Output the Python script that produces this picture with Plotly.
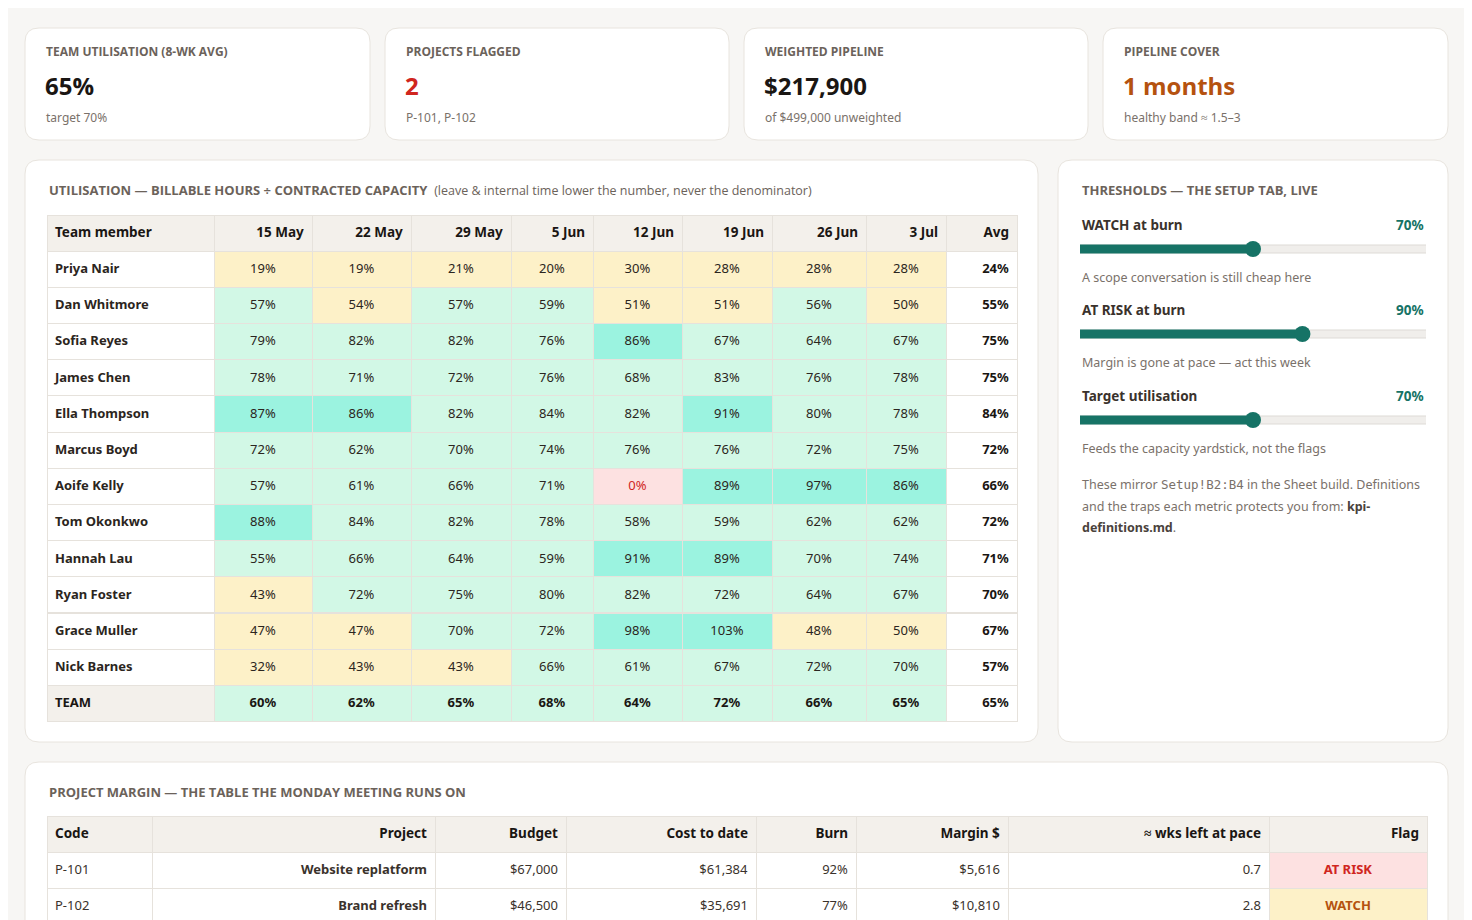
import plotly.graph_objects as go

W, H = 1456, 920
OFF = 8  # page body margin

# ---- data -------------------------------------------------------------------
weeks = ["15 May", "22 May", "29 May", "5 Jun", "12 Jun", "19 Jun", "26 Jun", "3 Jul"]
members = ["Priya Nair", "Dan Whitmore", "Sofia Reyes", "James Chen", "Ella Thompson",
           "Marcus Boyd", "Aoife Kelly", "Tom Okonkwo", "Hannah Lau", "Ryan Foster",
           "Grace Muller", "Nick Barnes"]
util = [
    [19, 19, 21, 20, 30, 28, 28, 28],
    [57, 54, 57, 59, 51, 51, 56, 50],
    [79, 82, 82, 76, 86, 67, 64, 67],
    [78, 71, 72, 76, 68, 83, 76, 78],
    [87, 86, 82, 84, 82, 91, 80, 78],
    [72, 62, 70, 74, 76, 76, 72, 75],
    [57, 61, 66, 71, 0, 89, 97, 86],
    [88, 84, 82, 78, 58, 59, 62, 62],
    [55, 66, 64, 59, 91, 89, 70, 74],
    [43, 72, 75, 80, 82, 72, 64, 67],
    [47, 47, 70, 72, 98, 103, 48, 50],
    [32, 43, 43, 66, 61, 67, 72, 70],
]
member_avg = [24, 55, 75, 75, 84, 72, 66, 72, 71, 70, 67, 57]
team_row = [60, 62, 65, 68, 64, 72, 66, 65]
team_avg = 65

kpi_titles = ["TEAM UTILISATION (8-WK AVG)", "PROJECTS FLAGGED", "WEIGHTED PIPELINE", "PIPELINE COVER"]
kpi_values = ["65%", "2", "$217,900", "1 months"]
kpi_notes = ["target 70%", "P-101, P-102", "of $499,000 unweighted", "healthy band ≈ 1.5–3"]
kpi_colors = ["#1a1613", "#d0261e", "#1a1613", "#b5520f"]

slider_names = ["WATCH at burn", "AT RISK at burn", "Target utilisation"]
slider_values = [70, 90, 70]
slider_notes = ["A scope conversation is still cheap here",
                "Margin is gone at pace — act this week",
                "Feeds the capacity yardstick, not the flags"]

proj_codes = ["P-101", "P-102"]
proj_names = ["Website replatform", "Brand refresh"]
proj_budget = ["$67,000", "$46,500"]
proj_cost = ["$61,384", "$35,691"]
proj_burn = ["92%", "77%"]
proj_margin = ["$5,616", "$10,810"]
proj_wks = ["0.7", "2.8"]
proj_flag = ["AT RISK", "WATCH"]

# ---- helpers ----------------------------------------------------------------
def px(x): return (x - OFF) / W
def py(y): return 1 - (y - OFF) / H

FONT = "Noto Sans"
HEAD = "Open Sans"
GRID = "#e6e2dc"
GREY = "#6b625a"

fig = go.Figure()
shapes = []
ann = []

def card(x0, y0, x1, y1, r=14):
    path = (f"M {px(x0+r)},{py(y0)} L {px(x1-r)},{py(y0)} Q {px(x1)},{py(y0)} {px(x1)},{py(y0+r)} "
            f"L {px(x1)},{py(y1-r)} Q {px(x1)},{py(y1)} {px(x1-r)},{py(y1)} "
            f"L {px(x0+r)},{py(y1)} Q {px(x0)},{py(y1)} {px(x0)},{py(y1-r)} "
            f"L {px(x0)},{py(y0+r)} Q {px(x0)},{py(y0)} {px(x0+r)},{py(y0)} Z")
    shapes.append(dict(type="path", path=path, xref="paper", yref="paper",
                       fillcolor="white", line=dict(color="#e8e4de", width=1), layer="below"))

def text(x, y, s, size=12, color=GREY, family=FONT, xanchor="left"):
    ann.append(dict(x=px(x), y=py(y), xref="paper", yref="paper", text=s, showarrow=False,
                    xanchor=xanchor, yanchor="middle", font=dict(size=size, color=color, family=family)))

# ---- KPI cards --------------------------------------------------------------
kx = [(25, 370), (385, 729), (744, 1088), (1103, 1448)]
for (x0, x1), t, v, n, c in zip(kx, kpi_titles, kpi_values, kpi_notes, kpi_colors):
    card(x0, 28, x1, 140)
    text(x0 + 19, 51, f"<b>{t}</b>", 12, GREY, HEAD)
    text(x0 + 18, 86, f"<b>{v}</b>", 24, c, HEAD)
    text(x0 + 19, 117, n, 12, "#7a716a")

# ---- utilisation panel ------------------------------------------------------
card(25, 160, 1038, 742)
text(47, 190, "<b>UTILISATION — BILLABLE HOURS ÷ CONTRACTED CAPACITY</b>"
     "  <span style='font-size:12.5px;color:#6b625a'>(leave &amp; internal time lower the number, never the denominator)</span>",
     13, GREY, HEAD)

def heat(v):
    if v == 0:
        return "#fde1e1"
    if v < 55:
        return "#fdf1c8"
    if v >= 85:
        return "#9bf3e0"
    return "#d2f8e6"

cols = [[f"<b>{m}</b>" for m in members] + ["<b>TEAM</b>"]]
fills = [["white"] * len(members) + ["#f3f0eb"]]
fcols = [["#2b2520"] * len(members) + ["#1a1613"]]
for j in range(len(weeks)):
    vals = [r[j] for r in util]
    cols.append([f"<span>{v}%</span>" for v in vals] + [f"<b>{team_row[j]}%</b>"])
    fills.append([heat(v) for v in vals] + [heat(team_row[j])])
    fcols.append(["#d0261e" if v == 0 else "#2b2520" for v in vals] + ["#1a1613"])
cols.append([f"<b>{v}%</b>" for v in member_avg] + [f"<b>{team_avg}%</b>"])
fills.append(["white"] * (len(members) + 1))
fcols.append(["#1a1613"] * (len(members) + 1))

fig.add_trace(go.Table(
    domain=dict(x=[px(47), px(1017)], y=[py(730), py(215)]),
    columnwidth=[167, 98, 99, 100, 82, 89, 90, 94, 80, 71],
    header=dict(values=["<b>Team member</b>"] + [f"<b>{w}</b>" for w in weeks] + ["<b>Avg</b>"],
                fill_color="#f3f0eb", line_color=GRID, height=36,
                align=["left"] + ["right"] * 9,
                font=dict(family=FONT, size=13.5, color="#1a1613")),
    cells=dict(values=cols, fill_color=fills, line_color=GRID, height=36.2,
               align=["left"] + ["center"] * 8 + ["right"],
               font=dict(family=FONT, size=13, color=fcols)),
))

# ---- thresholds panel -------------------------------------------------------
card(1058, 160, 1448, 742)
text(1080, 190, "<b>THRESHOLDS — THE SETUP TAB, LIVE</b>", 13, GREY, HEAD)
sy = [225, 310, 396]
for y, nm, v, nt in zip(sy, slider_names, slider_values, slider_notes):
    text(1080, y, f"<b>{nm}</b>", 13.5, "#3a322c", FONT)
    text(1426, y, f"<b>{v}%</b>", 13.5, "#167366", FONT, xanchor="right")
    text(1080, y + 52, nt, 12.5, "#7a716a")
# slider tracks on their own axis
track_y = [y + 24 for y in sy]
for ty, v in zip(track_y, slider_values):
    fig.add_trace(go.Scatter(x=[0, 140], y=[ty, ty], mode="lines", xaxis="x2", yaxis="y2",
                             line=dict(color="#dedbd6", width=9), hoverinfo="skip", showlegend=False))
    fig.add_trace(go.Scatter(x=[0, 140], y=[ty, ty], mode="lines", xaxis="x2", yaxis="y2",
                             line=dict(color="#f0eeeb", width=7), hoverinfo="skip", showlegend=False))
    fig.add_trace(go.Scatter(x=[0, v], y=[ty, ty], mode="lines", xaxis="x2", yaxis="y2",
                             line=dict(color="#167366", width=9), hoverinfo="skip", showlegend=False))
    fig.add_trace(go.Scatter(x=[v], y=[ty], mode="markers", xaxis="x2", yaxis="y2",
                             marker=dict(color="#167366", size=16), hoverinfo="skip", showlegend=False))
text(1080, 484, "These mirror <span style='font-family:DejaVu Sans Mono'>Setup!B2:B4</span> in the Sheet build. Definitions",
     12.5, "#7a716a")
text(1080, 506, "and the traps each metric protects you from: <b style='color:#4a423c'>kpi-</b>", 12.5, "#7a716a")
text(1080, 527, "<b style='color:#4a423c'>definitions.md</b>.", 12.5, "#7a716a")

# ---- project margin panel ---------------------------------------------------
card(25, 762, 1448, 940)
text(47, 792, "<b>PROJECT MARGIN — THE TABLE THE MONDAY MEETING RUNS ON</b>", 13, GREY, HEAD)
flag_fill = ["#fde1e1" if f == "AT RISK" else "#fdf1c8" for f in proj_flag]
flag_col = ["#d0261e" if f == "AT RISK" else "#b5520f" for f in proj_flag]
n = len(proj_codes)
sp = lambda L: [f"<span>{s}</span>" for s in L]
fig.add_trace(go.Table(
    domain=dict(x=[px(47), px(1427)], y=[0, py(816)]),
    columnwidth=[105, 283, 131, 190, 100, 152, 261, 158],
    header=dict(values=["<b>Code</b>", "<b>Project</b>", "<b>Budget</b>", "<b>Cost to date</b>",
                        "<b>Burn</b>", "<b>Margin $</b>", "<b>≈ wks left at pace</b>", "<b>Flag</b>"],
                fill_color="#f3f0eb", line_color=GRID, height=36,
                align=["left"] + ["right"] * 7,
                font=dict(family=FONT, size=13.5, color="#1a1613")),
    cells=dict(values=[sp(proj_codes), [f"<b>{p}</b>" for p in proj_names], sp(proj_budget), sp(proj_cost),
                       sp(proj_burn), sp(proj_margin), sp(proj_wks), [f"<b>{f}</b>" for f in proj_flag]],
               fill_color=[["white"] * n] * 7 + [flag_fill],
               line_color=GRID, height=36,
               align=["left"] + ["right"] * 6 + ["center"],
               font=dict(family=FONT, size=13, color=[["#3a322c"] * n] * 7 + [flag_col])),
))

fig.update_layout(
    width=W, height=H, margin=dict(l=0, r=0, t=0, b=0),
    paper_bgcolor="#f7f6f4", plot_bgcolor="rgba(0,0,0,0)",
    shapes=shapes, annotations=ann, showlegend=False,
    xaxis2=dict(domain=[px(1080), px(1426)], range=[0, 140], visible=False, fixedrange=True),
    yaxis2=dict(domain=[0, 1], range=[H + OFF, OFF], visible=False, fixedrange=True, anchor="x2"),
)
fig.write_html("out.html")
